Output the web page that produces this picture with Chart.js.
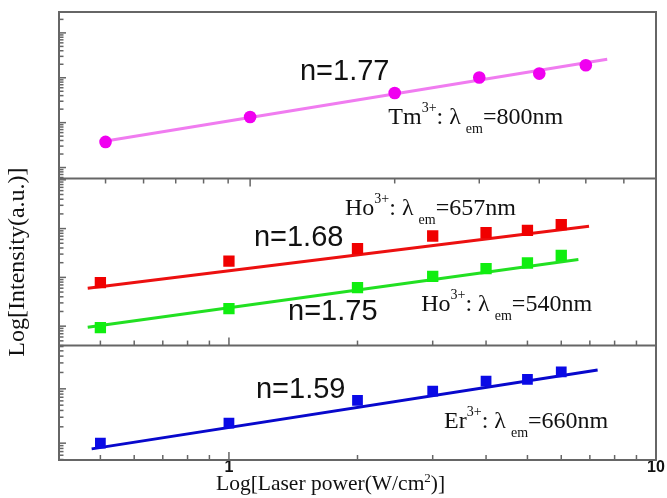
<!DOCTYPE html>
<html>
<head>
<meta charset="utf-8">
<script src="https://cdn.jsdelivr.net/npm/chart.js@4.4.0/dist/chart.umd.min.js"></script>
<style>
  body { margin: 0; background: #fff; }
</style>
</head>
<body>
<canvas id="chart" width="667" height="498"></canvas>
<script>
// laser power (W/cm2) and emission intensity (a.u.)
const tmPower = [0.5, 1, 2, 3, 4, 5]
const tmIntensity = [3.72, 13.4, 45.9, 101, 124, 190]
const tmFitPower = [0.49, 5.54]
const tmFit = [3.76, 258]

const hoPower = [0.5, 1, 2, 3, 4, 5, 6]
const ho657Intensity = [7.8, 21.6, 38.8, 70.5, 82.8, 92.3, 121]
const ho657FitPower = [0.467, 6.97]
const ho657Fit = [6.0, 112]
const ho540Intensity = [0.93, 2.28, 6.15, 10.5, 15.1, 19.7, 28.3]
const ho540FitPower = [0.467, 6.58]
const ho540Fit = [0.95, 23.3]

const erPower = [0.5, 1, 2, 3, 4, 5, 6]
const erIntensity = [1.0, 2.35, 6.15, 9.03, 13.8, 14.9, 20.6]
const erFitPower = [0.477, 7.3]
const erFit = [0.785, 22.3]

const xTickLabels = [1, 10]

const serif = '"Liberation Serif", "Times New Roman", serif'
const sans = '"Liberation Sans", Arial, sans-serif'
const frameColor = '#666'

const pts = (xs, ys) => xs.map((x, i) => ({x: x, y: ys[i]}))

// text labels, anchored in data coordinates of their panel
const notes = [
  {xs: 'xt', ys: 'y1', x: 1.27, y: 88, kind: 'n', parts: [{t: 'n=1.77'}]},
  {xs: 'xt', ys: 'y1', x: 1.94, y: 9.2, parts: [{t: 'Tm'}, {t: '3+', s: 'sup'}, {t: ': λ'}, {t: 'em', s: 'sub'}, {t: '=800nm'}]},
  {xs: 'x', ys: 'y2', x: 1.87, y: 194, parts: [{t: 'Ho'}, {t: '3+', s: 'sup'}, {t: ': λ'}, {t: 'em', s: 'sub'}, {t: '=657nm'}]},
  {xs: 'x', ys: 'y2', x: 1.144, y: 45, kind: 'n', parts: [{t: 'n=1.68'}]},
  {xs: 'x', ys: 'y2', x: 1.375, y: 1.31, kind: 'n', parts: [{t: 'n=1.75'}]},
  {xs: 'x', ys: 'y2', x: 2.82, y: 2.03, parts: [{t: 'Ho'}, {t: '3+', s: 'sup'}, {t: ': λ'}, {t: 'em', s: 'sub'}, {t: '=540nm'}]},
  {xs: 'x', ys: 'y3', x: 1.157, y: 6.8, kind: 'n', parts: [{t: 'n=1.59'}]},
  {xs: 'x', ys: 'y3', x: 3.19, y: 1.89, parts: [{t: 'Er'}, {t: '3+', s: 'sup'}, {t: ': λ'}, {t: 'em', s: 'sub'}, {t: '=660nm'}]}
]
const xTitleParts = [{t: 'Log[Laser power(W/cm'}, {t: '2', s: 'sup'}, {t: ')]'}]

function logTicks(min, max) {
  const out = []
  for (let e = Math.floor(Math.log10(min)); e <= Math.ceil(Math.log10(max)); e++) {
    for (let m = 1; m <= 9; m++) {
      const v = m * Math.pow(10, e)
      if (v >= min * 0.999 && v <= max * 1.001) out.push({v: v, major: m === 1})
    }
  }
  return out
}

function drawRich(ctx, x, y, note) {
  note.parts.forEach(p => {
    if (note.kind === 'n') {
      ctx.font = '29px ' + sans
      ctx.fillText(p.t, x, y)
      return
    }
    const small = p.s === 'sup' || p.s === 'sub'
    const dy = p.s === 'sup' ? -12 : p.s === 'sub' ? 9 : 0
    if (p.s === 'sub') x += 5
    ctx.font = (small ? 14 : 24) + 'px ' + serif
    ctx.fillText(p.t, x, y + dy)
    x += ctx.measureText(p.t).width
  })
}

function drawXTitle(ctx, cx, y) {
  const font = p => (p.s === 'sup' ? 13 : 21.5) + 'px ' + serif
  let w = 0
  xTitleParts.forEach(p => { ctx.font = font(p); w += ctx.measureText(p.t).width })
  let x = cx - w / 2
  xTitleParts.forEach(p => {
    ctx.font = font(p)
    ctx.fillText(p.t, x, y + (p.s === 'sup' ? -8 : 0))
    x += ctx.measureText(p.t).width
  })
}

const framePlugin = {
  id: 'frame',
  afterDraw(chart) {
    const {ctx, chartArea: a, scales} = chart
    ctx.save()
    ctx.strokeStyle = frameColor
    ctx.lineWidth = 1.5
    const line = (x1, y1, x2, y2) => { ctx.beginPath(); ctx.moveTo(x1, y1); ctx.lineTo(x2, y2); ctx.stroke() }

    // left axis ticks, pointing in
    ;['y1', 'y2', 'y3'].forEach(id => {
      const s = scales[id]
      logTicks(s.min, s.max).forEach(t => {
        const py = s.getPixelForValue(t.v)
        line(a.left, py, a.left + (t.major ? 7 : 4.5), py)
      })
    })
    // x ticks: bottom edge and panel 2/3 border use x, panel 1/2 border uses xt
    logTicks(scales.x.min, scales.x.max).forEach(t => {
      const px = scales.x.getPixelForValue(t.v)
      const len = t.major ? 8 : 5
      line(px, a.bottom, px, a.bottom - len)
      line(px, scales.y3.top, px, scales.y3.top - len)
    })
    logTicks(scales.xt.min, scales.xt.max).forEach(t => {
      const px = scales.xt.getPixelForValue(t.v)
      const len = t.major ? 8 : 5
      line(px, scales.y2.top, px, scales.y2.top + len)
    })

    ctx.lineWidth = 2
    ctx.strokeRect(a.left, a.top, a.right - a.left, a.bottom - a.top)
    line(a.left, scales.y2.top, a.right, scales.y2.top)
    line(a.left, scales.y3.top, a.right, scales.y3.top)

    ctx.fillStyle = '#111'
    ctx.textBaseline = 'alphabetic'
    ctx.textAlign = 'left'
    notes.forEach(n => {
      drawRich(ctx, scales[n.xs].getPixelForValue(n.x), scales[n.ys].getPixelForValue(n.y), n)
    })
    // x axis title sits a little left of centre in the original
    drawXTitle(ctx, scales.x.getPixelForValue(1.73), a.bottom + 30)
    ctx.restore()
  }
}

const hiddenY = (weight, min, max) => ({
  type: 'logarithmic', position: 'left', stack: 'panels', stackWeight: weight,
  min: min, max: max,
  grid: {display: false, drawTicks: false}, border: {display: false}, ticks: {display: false}
})

const y2Scale = hiddenY(167.2, 0.40, 1064)
y2Scale.title = {
  display: true, text: 'Log[Intensity(a.u.)]', color: '#111',
  font: {family: serif, size: 24, lineHeight: 1}, padding: {top: 6, bottom: 29}
}

const ctx = document.getElementById('chart').getContext('2d')
new Chart(ctx, {
  type: 'scatter',
  data: {
    datasets: [
      {data: pts(tmPower, tmIntensity), xAxisID: 'xt', yAxisID: 'y1', pointStyle: 'circle', pointRadius: 6.3, backgroundColor: '#f000f0', borderWidth: 0, order: 0},
      {data: pts(hoPower, ho657Intensity), xAxisID: 'x', yAxisID: 'y2', pointStyle: 'rect', pointRadius: 8, backgroundColor: '#f00000', borderWidth: 0, order: 0},
      {data: pts(hoPower, ho540Intensity), xAxisID: 'x', yAxisID: 'y2', pointStyle: 'rect', pointRadius: 8, backgroundColor: '#10ee10', borderWidth: 0, order: 0},
      {data: pts(erPower, erIntensity), xAxisID: 'x', yAxisID: 'y3', pointStyle: 'rect', pointRadius: 7.6, backgroundColor: '#0a0ae6', borderWidth: 0, order: 0},
      {data: pts(tmFitPower, tmFit), xAxisID: 'xt', yAxisID: 'y1', showLine: true, pointRadius: 0, borderColor: '#f07cf0', borderWidth: 3, order: 1},
      {data: pts(ho657FitPower, ho657Fit), xAxisID: 'x', yAxisID: 'y2', showLine: true, pointRadius: 0, borderColor: '#ec1010', borderWidth: 3, order: 1},
      {data: pts(ho540FitPower, ho540Fit), xAxisID: 'x', yAxisID: 'y2', showLine: true, pointRadius: 0, borderColor: '#22e022', borderWidth: 3, order: 1},
      {data: pts(erFitPower, erFit), xAxisID: 'x', yAxisID: 'y3', showLine: true, pointRadius: 0, borderColor: '#0808cc', borderWidth: 3, order: 1}
    ]
  },
  options: {
    responsive: false,
    animation: false,
    layout: {padding: {top: 12, right: 11, bottom: 22, left: 0}},
    plugins: {legend: {display: false}, tooltip: {enabled: false}},
    scales: {
      x: {
        type: 'logarithmic', position: 'bottom', min: 0.4, max: 10,
        grid: {display: false, drawTicks: false}, border: {display: false},
        afterBuildTicks: s => { s.ticks = xTickLabels.map(v => ({value: v})) },
        ticks: {padding: 0, maxRotation: 0, autoSkip: false, color: '#111',
          font: {family: sans, size: 16, weight: 'bold', lineHeight: 1},
          callback: v => String(v)}
      },
      xt: {type: 'logarithmic', display: false, min: 0.4, max: 7},
      // left boxes stack bottom-up, so the lowest panel comes first
      y3: hiddenY(114.5, 0.49, 62.5),
      y2: y2Scale,
      y1: hiddenY(166.6, 0.57, 2920)
    }
  },
  plugins: [framePlugin]
})
</script>
</body>
</html>
